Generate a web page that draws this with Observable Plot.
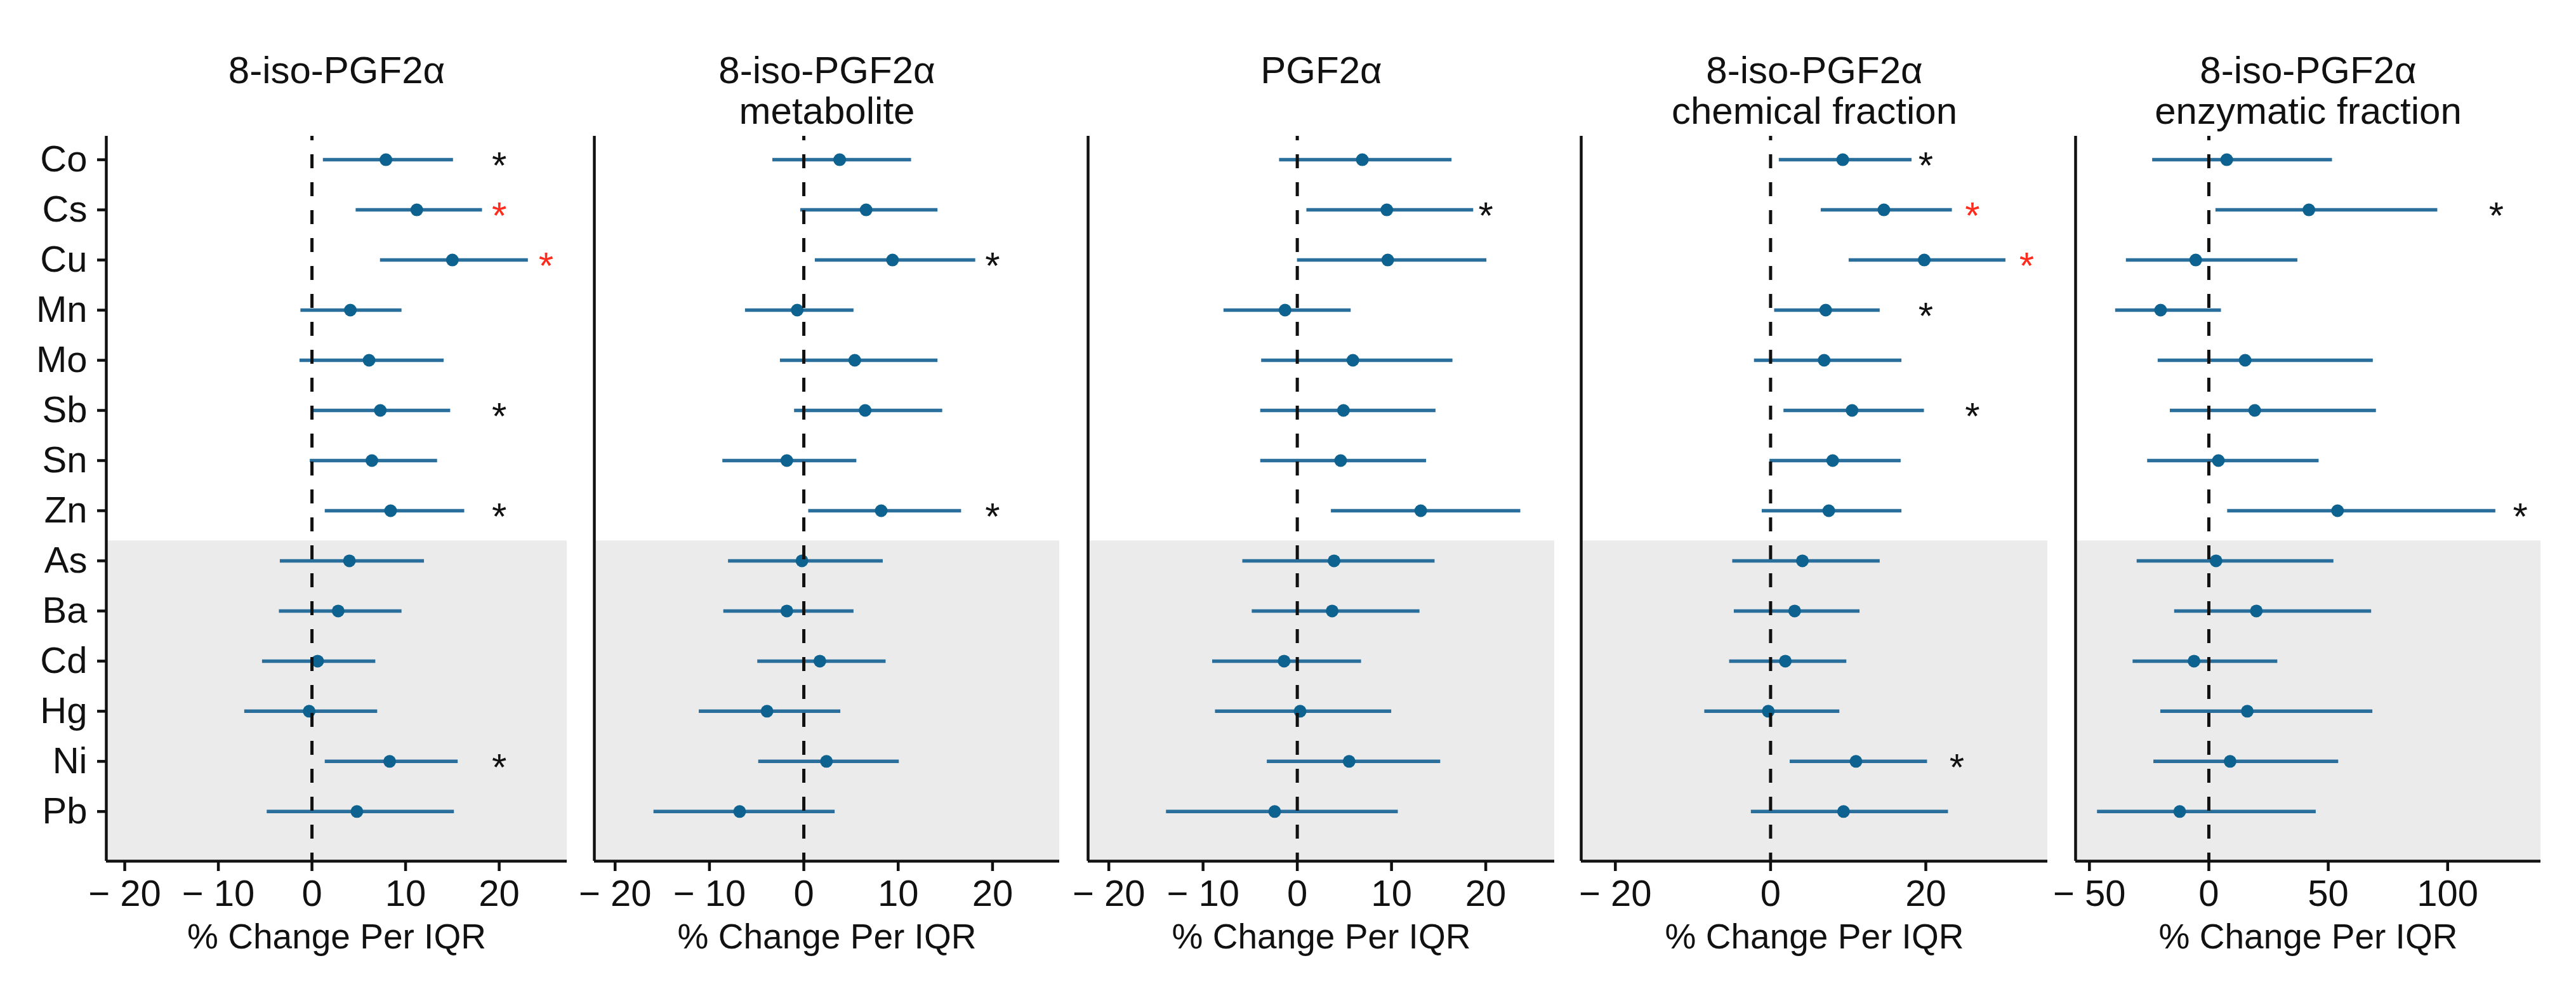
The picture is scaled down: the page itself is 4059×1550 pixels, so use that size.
<!DOCTYPE html>
<html><head><meta charset="utf-8">
<script src="https://cdn.jsdelivr.net/npm/d3@7"></script>
<script src="https://cdn.jsdelivr.net/npm/@observablehq/plot@0.6"></script>
<style>
body{margin:0;background:#fff}
#fig{position:relative;width:4059px;height:1550px;background:#fff;font-family:"Liberation Sans",Arial,sans-serif}
#fig svg{position:absolute;top:0;overflow:visible}
</style></head><body><div id="fig"></div>
<script>
// ---- data ----
const elements = ["Co","Cs","Cu","Mn","Mo","Sb","Sn","Zn","As","Ba","Cd","Hg","Ni","Pb"];
const titles = [["8-iso-PGF2α"],["8-iso-PGF2α","metabolite"],["PGF2α"],["8-iso-PGF2α","chemical fraction"],["8-iso-PGF2α","enzymatic fraction"]];
const xLabel = "% Change Per IQR";

// panel 1: 8-iso-PGF2α
const est1 = [7.9, 11.2, 15.0, 4.1, 6.1, 7.3, 6.4, 8.4, 4.0, 2.8, 0.6, -0.3, 8.3, 4.8];
const lo1  = [1.2, 4.7, 7.3, -1.2, -1.3, 0.2, -0.2, 1.4, -3.4, -3.5, -5.3, -7.2, 1.4, -4.8];
const hi1  = [15.1, 18.2, 23.1, 9.6, 14.1, 14.8, 13.4, 16.3, 12.0, 9.6, 6.8, 7.0, 15.6, 15.2];
// panel 2: 8-iso-PGF2α metabolite
const est2 = [3.8, 6.6, 9.4, -0.7, 5.4, 6.5, -1.8, 8.2, -0.2, -1.8, 1.7, -3.9, 2.4, -6.8];
const lo2  = [-3.3, -0.35, 1.2, -6.2, -2.5, -1.0, -8.6, 0.5, -8.0, -8.5, -4.9, -11.1, -4.8, -15.9];
const hi2  = [11.4, 14.2, 18.2, 5.3, 14.2, 14.7, 5.6, 16.7, 8.4, 5.3, 8.7, 3.9, 10.1, 3.3];
// panel 3: PGF2α
const est3 = [6.9, 9.5, 9.6, -1.3, 5.9, 4.9, 4.6, 13.1, 3.9, 3.7, -1.4, 0.3, 5.5, -2.4];
const lo3  = [-1.9, 1.0, 0.0, -7.8, -3.8, -3.9, -3.9, 3.6, -5.8, -4.8, -9.0, -8.7, -3.2, -13.9];
const hi3  = [16.4, 18.7, 20.1, 5.7, 16.5, 14.7, 13.7, 23.7, 14.6, 13.0, 6.8, 10.0, 15.2, 10.7];
// panel 4: chemical fraction
const est4 = [9.3, 14.6, 19.8, 7.1, 6.9, 10.5, 8.0, 7.5, 4.1, 3.1, 1.9, -0.3, 11.0, 9.4];
const lo4  = [1.1, 6.5, 10.1, 0.5, -2.1, 1.7, -0.1, -1.1, -4.9, -4.7, -5.3, -8.5, 2.5, -2.5];
const hi4  = [18.2, 23.4, 30.3, 14.1, 16.9, 19.8, 16.8, 16.9, 14.1, 11.5, 9.8, 8.9, 20.2, 22.9];
// panel 5: enzymatic fraction
const est5 = [7.5, 41.9, -5.5, -20.2, 15.2, 19.2, 4.0, 53.9, 3.0, 19.9, -6.2, 16.1, 8.9, -12.2];
const lo5  = [-23.6, 2.9, -34.6, -39.1, -21.3, -16.2, -25.7, 7.8, -30.1, -14.4, -31.8, -20.2, -23.1, -46.7];
const hi5  = [51.7, 95.8, 37.2, 5.2, 68.8, 70.1, 46.1, 120.1, 52.3, 68.1, 28.8, 68.6, 54.3, 44.9];

// significance markers (element, x position, kind)
const starEl1 = ["Co","Cs","Cu","Sb","Zn","Ni"], starX1 = [20,20,25,20,20,20], starKind1 = ["p","fdr","fdr","p","p","p"];
const starEl2 = ["Cu","Zn"], starX2 = [20,20], starKind2 = ["p","p"];
const starEl3 = ["Cs"], starX3 = [20], starKind3 = ["p"];
const starEl4 = ["Co","Cs","Cu","Mn","Sb","Ni"], starX4 = [20,26,33,20,26,24], starKind4 = ["p","fdr","fdr","p","p","p"];
const starEl5 = ["Cs","Zn"], starX5 = [120.4,130.4], starKind5 = ["p","p"];

const ticks1 = [-20,-10,0,10,20];
const ticks2 = [-20,-10,0,10,20];
const ticks3 = [-20,-10,0,10,20];
const ticks4 = [-20,0,20];
const ticks5 = [-50,0,50,100];

// ---- layout ----
const W = 4059, H = 1550, mTop = 214, mBottom = 194;
const panels = [
  {est: est1, lo: lo1, hi: hi1, sEl: starEl1, sX: starX1, sK: starKind1, ticks: ticks1, dom: [-21.97, 27.25], b: [0, 914], L: 167, R: 893},
  {est: est2, lo: lo2, hi: hi2, sEl: starEl2, sX: starX2, sK: starKind2, ticks: ticks2, dom: [-22.2, 27.1], b: [914, 1691], L: 936, R: 1669},
  {est: est3, lo: lo3, hi: hi3, sEl: starEl3, sX: starX3, sK: starKind3, ticks: ticks3, dom: [-22.2, 27.3], b: [1691, 2470], L: 1714, R: 2449},
  {est: est4, lo: lo4, hi: hi4, sEl: starEl4, sX: starX4, sK: starKind4, ticks: ticks4, dom: [-24.4, 35.7], b: [2470, 3248], L: 2491, R: 3226},
  {est: est5, lo: lo5, hi: hi5, sEl: starEl5, sX: starX5, sK: starKind5, ticks: ticks5, dom: [-55.8, 139], b: [3248, 4059], L: 3270, R: 4003}
];
const yDom = [-0.47, 13.99];
const bandTop = 7.6;
const lineCol = "#2a6f9c", dotCol = "#0d6290", redCol = "#ff2b1c";
const fmt = d => d < 0 ? "\u2212 " + (-d) : String(d);

const fig = document.getElementById("fig");
panels.forEach((p, k) => {
  const rows = elements.map((e, i) => ({e, i, est: p.est[i], lo: p.lo[i], hi: p.hi[i]}));
  const stars = p.sEl.map((e, j) => ({i: elements.indexOf(e), x: p.sX[j], kind: p.sK[j]}));
  const width = p.b[1] - p.b[0];
  const marks = [
    Plot.rect([{x1: p.dom[0], x2: p.dom[1], y1: bandTop, y2: yDom[1]}], {x1: "x1", x2: "x2", y1: "y1", y2: "y2", fill: "#ebebeb"}),
    Plot.ruleY(rows, {y: "i", x1: "lo", x2: "hi", stroke: lineCol, strokeWidth: 5.5}),
    Plot.dot(rows, {x: "est", y: "i", r: 10, fill: dotCol, stroke: null}),
    Plot.ruleX([0], {stroke: "#111", strokeWidth: 5, strokeDasharray: "22,22", strokeDashoffset: 15}),
    Plot.text(stars, {x: "x", y: "i", text: () => "*", fill: d => d.kind === "fdr" ? redCol : "#111", fontSize: 60, dy: 10}),
    Plot.ruleX([p.dom[0]], {stroke: "#111", strokeWidth: 4.5}),
    Plot.ruleY([yDom[1]], {stroke: "#111", strokeWidth: 4.5}),
    Plot.axisX({ticks: p.ticks, tickFormat: fmt, tickSize: 16, tickPadding: 13, fontSize: 58, strokeWidth: 4.5, color: "#111", label: null}),
    Plot.text([xLabel], {text: d => d, frameAnchor: "bottom", lineAnchor: "top", dy: 98, fontSize: 55, fill: "#111"}),
    Plot.text([titles[k][0]], {text: d => d, frameAnchor: "top", dy: -126, fontSize: 60, fill: "#111"})
  ];
  if (titles[k][1]) marks.push(Plot.text([titles[k][1]], {text: d => d, frameAnchor: "top", dy: -62, fontSize: 60, fill: "#111"}));
  if (k === 0) marks.push(Plot.axisY({ticks: d3.range(elements.length), tickFormat: i => elements[i], tickSize: 14, tickPadding: 16, fontSize: 58, strokeWidth: 4.5, color: "#111", label: null}));
  const yOpts = {domain: yDom, reverse: true};
  if (k !== 0) yOpts.axis = null;
  const svg = Plot.plot({
    width, height: H,
    marginLeft: p.L - p.b[0], marginRight: p.b[1] - p.R, marginTop: mTop, marginBottom: mBottom,
    x: {domain: p.dom},
    y: yOpts,
    style: {fontFamily: '"Liberation Sans", Arial, sans-serif', background: "transparent", overflow: "visible"},
    marks
  });
  svg.style.left = p.b[0] + "px";
  fig.appendChild(svg);
});
</script></body></html>
